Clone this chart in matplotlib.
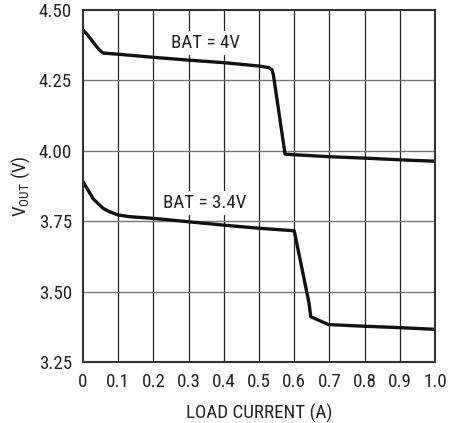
import matplotlib
matplotlib.use("Agg")
import matplotlib.pyplot as plt
from matplotlib import font_manager

# BAT = 4V curve
bat4_x = [0, 0.014, 0.028, 0.045, 0.057, 0.1, 0.2, 0.3, 0.4, 0.5, 0.529, 0.537, 0.541, 0.574, 0.7, 0.8, 0.9, 1.0]
bat4_y = [4.429, 4.410, 4.387, 4.360, 4.347, 4.343, 4.332, 4.322, 4.313, 4.301, 4.295, 4.287, 4.269, 3.988, 3.979, 3.974, 3.968, 3.963]

# BAT = 3.4V curve
bat34_x = [0, 0.014, 0.028, 0.043, 0.057, 0.075, 0.1, 0.133, 0.2, 0.3, 0.4, 0.5, 0.6, 0.642, 0.647, 0.697, 0.8, 0.9, 1.0]
bat34_y = [3.890, 3.861, 3.831, 3.812, 3.796, 3.784, 3.772, 3.766, 3.760, 3.748, 3.736, 3.725, 3.716, 3.46, 3.411, 3.383, 3.377, 3.372, 3.366]

xticks = [0, 0.1, 0.2, 0.3, 0.4, 0.5, 0.6, 0.7, 0.8, 0.9, 1.0]
xlabels = ["0", "0.1", "0.2", "0.3", "0.4", "0.5", "0.6", "0.7", "0.8", "0.9", "1.0"]
yticks = [3.25, 3.50, 3.75, 4.00, 4.25, 4.50]
ylabels = ["3.25", "3.50", "3.75", "4.00", "4.25", "4.50"]

# pick a narrow font if one is there
names = {f.name for f in font_manager.fontManager.ttflist}
main = "Liberation Sans"
for cand in ["Liberation Sans Narrow", "Roboto Condensed", "Open Sans Condensed", "Arial Narrow"]:
    if cand in names:
        main = cand
        break
plt.rcParams["font.family"] = [main, "DejaVu Sans"]
plt.rcParams["mathtext.fontset"] = "custom"
plt.rcParams["mathtext.rm"] = main

fs = 13.7
fig = plt.figure(figsize=(4.65, 4.23), dpi=100)
ax = fig.add_axes([83 / 465, 61 / 423, 352 / 465, 352 / 423])

for x in xticks[1:-1]:
    ax.axvline(x, color="#222222", lw=0.9, zorder=1)
for y in yticks[1:-1]:
    ax.axhline(y, color="#777777", lw=1.0, zorder=1)

ax.plot(bat4_x, bat4_y, color="#111111", lw=2.4, solid_joinstyle="round", zorder=3)
ax.plot(bat34_x, bat34_y, color="#111111", lw=2.4, solid_joinstyle="round", zorder=3)

box = dict(facecolor="white", edgecolor="none", boxstyle="square,pad=0.15")
ax.text(0.347, 4.384, "BAT = 4V", ha="center", va="center", fontsize=fs,
        color="#222222", zorder=4, bbox=box)
ax.text(0.347, 3.814, "BAT = 3.4V", ha="center", va="center", fontsize=fs,
        color="#222222", zorder=4, bbox=box)

ax.set_xlim(0, 1.0)
ax.set_ylim(3.25, 4.50)
ax.set_xticks(xticks)
ax.set_xticklabels(xlabels)
ax.set_yticks(yticks)
ax.set_yticklabels(ylabels)
ax.tick_params(length=0, labelsize=fs, colors="#222222", pad=8)

for s in ax.spines.values():
    s.set_color("#333333")
    s.set_linewidth(1.5)
    s.set_zorder(5)

ax.set_xlabel("LOAD CURRENT (A)", fontsize=fs, color="#222222", labelpad=9)
ax.set_ylabel(r"V$_{\mathrm{OUT}}$ (V)", fontsize=fs, color="#222222", labelpad=5)

fig.savefig("out.png", dpi=100)
